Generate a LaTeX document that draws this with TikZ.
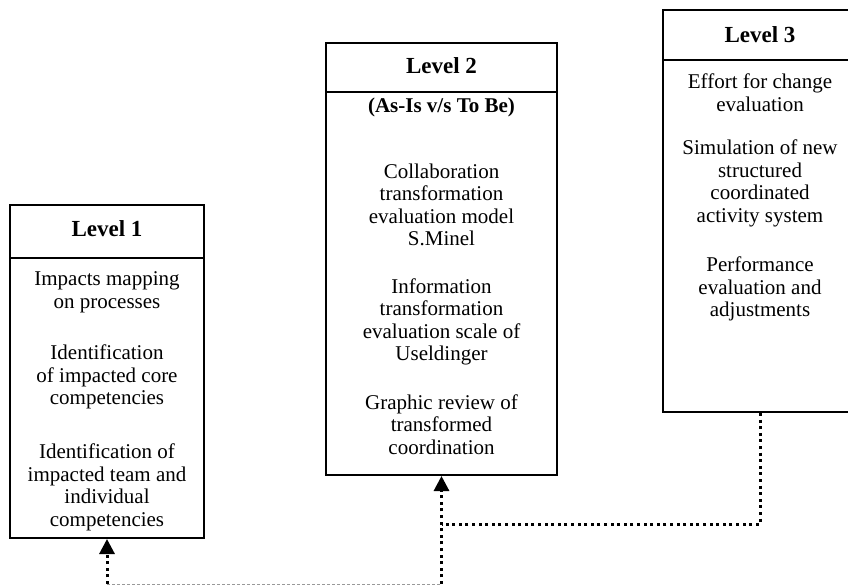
\documentclass[tikz,border=0pt]{standalone}
\usepackage{fontspec}
\setmainfont{Liberation Serif}
\usetikzlibrary{arrows.meta}
\begin{document}
\begin{tikzpicture}[x=1pt,y=-1pt,
  levelbox/.style={draw, line width=2pt, rectangle, inner sep=0pt},
  titletext/.style={anchor=base, inner sep=0pt, font=\fontsize{23pt}{25pt}\selectfont\bfseries},
  bodytext/.style={anchor=north, inner sep=0pt, align=center, font=\fontsize{21pt}{22.5pt}\selectfont},
  thickdot/.style={line width=3pt, dash pattern=on 3pt off 3.6pt},
  uptip/.style={-{Triangle[width=15pt,length=15pt]}},
  thingray/.style={draw=black!40, line width=1pt, dash pattern=on 3pt off 2pt}]
\useasboundingbox (0,0) rectangle (848,586);
% boxes
\node[levelbox, minimum width=194pt, minimum height=333pt] (l1) at (107,371.5) {};
\node[levelbox, minimum width=231pt, minimum height=432pt] (l2) at (441.5,259) {};
\node[levelbox, minimum width=194pt, minimum height=402pt] (l3) at (760,211) {};
% header separators
\draw[line width=2pt] (l1.west |- 0,258) -- (l1.east |- 0,258);
\draw[line width=2pt] (l2.west |- 0,92) -- (l2.east |- 0,92);
\draw[line width=2pt] (l3.west |- 0,60) -- (l3.east |- 0,60);
% titles
\node[titletext] (t1) at (107,236) {Level 1};
\node[titletext] (t2) at (441.5,74) {Level 2};
\node[titletext] (t3) at (760,43) {Level 3};
% bodies
\node[bodytext] (b1) at (107,271.5) {Impacts mapping\\on processes\\[29pt]Identification\\of impacted core\\competencies\\[31.5pt]Identification of\\impacted team and\\individual\\competencies};
\node[bodytext] (b2) at (441.5,97.5) {\textbf{(As-Is v/s To Be)}\\[43.5pt]Collaboration\\transformation\\evaluation model\\S.Minel\\[25pt]Information\\transformation\\evaluation scale of\\Useldinger\\[26pt]Graphic review of\\transformed\\coordination};
\node[bodytext] (b3) at (760,74) {Effort for change\\evaluation\\[21pt]Simulation of new\\structured\\coordinated\\activity system\\[27pt]Performance\\evaluation and\\adjustments};
% connectors
\coordinate (j2) at (441.5,524);
\coordinate (f1) at (107,584);
\coordinate (f2) at (441.5,584);
\draw[thickdot] (l3.south) |- (j2);
\draw[thickdot, uptip] (f2) -- (l2.south);
\draw[thickdot, uptip] (f1) -- (l1.south);
\draw[thingray] (f1) -- (f2);
\end{tikzpicture}
\end{document}
